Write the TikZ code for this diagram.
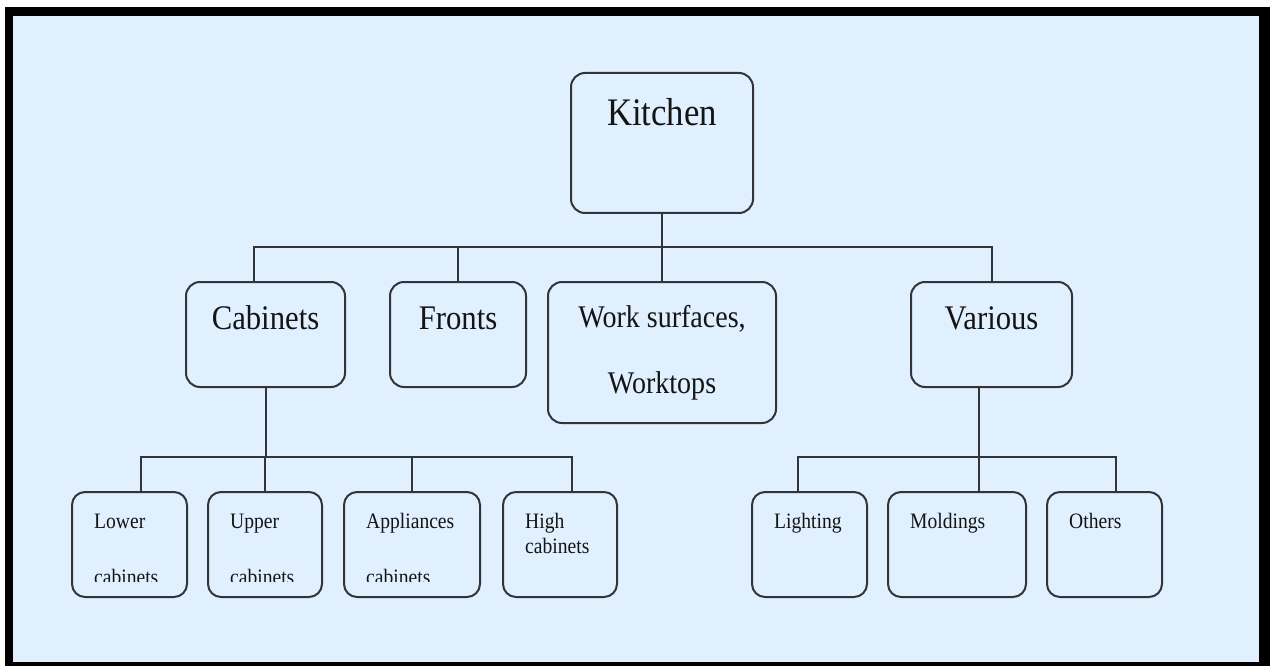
\documentclass[tikz,border=0pt]{standalone}
\usepackage{fontspec}
\setmainfont{Liberation Serif}[FakeStretch=0.89]
\definecolor{panel}{RGB}{224,240,254}
\definecolor{ink}{RGB}{50,52,56}
\definecolor{txt}{RGB}{20,20,20}
\begin{document}
\begin{tikzpicture}[x=1pt,y=-1pt,
  box/.style={draw=ink, line width=2pt, rounded corners=14pt, outer sep=0pt, inner sep=0pt, fill=panel},
  leaf/.style={box, rounded corners=13pt, minimum height=105pt},
  wire/.style={draw=ink, line width=2pt},
  toptext/.style={font=\fontsize{39}{44}\selectfont, text=txt, inner sep=0pt, anchor=base},
  midtext/.style={font=\fontsize{34.5}{40}\selectfont, text=txt, inner sep=0pt, anchor=base},
  worktext/.style={font=\fontsize{31.5}{36}\selectfont, text=txt, inner sep=0pt, anchor=base},
  leaftext/.style={font=\fontsize{22}{26}\selectfont, text=txt, inner sep=0pt, anchor=base west}
]
\useasboundingbox (0,0) rectangle (1270,666);
% frame and panel
\fill[white] (0,0) rectangle (1270,666);
\fill[black] (5,7) rectangle (1270,666);
\fill[panel] (13,16) rectangle (1259,662);

% bus levels
\coordinate (topbus) at (0,247);
\coordinate (lowbus) at (0,457);

% boxes
\node[box, minimum width=182pt, minimum height=140pt] (kitchen) at (662,143) {};
\node[box, minimum width=159pt, minimum height=105pt] (cab) at (265.5,334.5) {};
\node[box, minimum width=136pt, minimum height=105pt] (front) at (458,334.5) {};
\node[box, minimum width=228pt, minimum height=141pt] (work) at (662,352.5) {};
\node[box, minimum width=161pt, minimum height=105pt] (var) at (991.5,334.5) {};

\node[leaf, minimum width=115pt] (lower) at (129.5,544.5) {};
\node[leaf, minimum width=114pt] (upper) at (265,544.5) {};
\node[leaf, minimum width=136pt] (appl) at (412,544.5) {};
\node[leaf, minimum width=114pt] (high) at (560,544.5) {};
\node[leaf, minimum width=115pt] (light) at (809.5,544.5) {};
\node[leaf, minimum width=138pt] (mold) at (957,544.5) {};
\node[leaf, minimum width=115pt] (others) at (1104.5,544.5) {};

% connectors, upper level
\draw[wire] (kitchen.south) -- (kitchen.south |- topbus);
\draw[wire] ([xshift=-11.5pt]cab.north) |- (var.north |- topbus) -- (var.north);
\draw[wire] (front.north) -- (front.north |- topbus);
\draw[wire] (work.north) -- (work.north |- topbus);

% connectors, cabinets branch
\draw[wire] (cab.south) -- (cab.south |- lowbus);
\draw[wire] ([xshift=11.5pt]lower.north) |- ([xshift=12pt]high.north |- lowbus) -- ([xshift=12pt]high.north);
\draw[wire] (upper.north) -- (upper.north |- lowbus);
\draw[wire] (appl.north) -- (appl.north |- lowbus);

% connectors, various branch
\draw[wire] ([xshift=-12.5pt]var.south) -- ([xshift=-12.5pt]var.south |- lowbus);
\draw[wire] ([xshift=-11.5pt]light.north) |- ([xshift=11.5pt]others.north |- lowbus) -- ([xshift=11.5pt]others.north);
\draw[wire] ([xshift=22pt]mold.north) -- ([xshift=22pt]mold.north |- lowbus);

% labels
\node[toptext] (tkitchen) at (662,126) {Kitchen};
\node[midtext] (tcab) at (265.5,329) {Cabinets};
\node[midtext] (tfront) at (458,329) {Fronts};
\node[worktext] (twork1) at (662,327) {Work surfaces,};
\node[worktext] (twork2) at (662,393) {Worktops};
\node[midtext] (tvar) at (991.5,329) {Various};

\node[leaftext] (tlower1) at (94,528) {Lower};
\node[leaftext] (tupper1) at (230,528) {Upper};
\node[leaftext] (tappl1) at (366,528) {Appliances};
\node[leaftext] (thigh1) at (525,528) {High};
\node[leaftext] (thigh2) at (525,553) {cabinets};
\node[leaftext] (tlight) at (774,528) {Lighting};
\node[leaftext] (tmold) at (910,528) {Moldings};
\node[leaftext] (tothers) at (1069,528) {Others};

% second lines cut off at the bottom
\begin{scope}
  \clip (0,0) rectangle (1270,581.5);
  \node[leaftext] (tlower2) at (94,584) {cabinets};
  \node[leaftext] (tupper2) at (230,584) {cabinets};
  \node[leaftext] (tappl2) at (366,584) {cabinets};
\end{scope}
\end{tikzpicture}
\end{document}
